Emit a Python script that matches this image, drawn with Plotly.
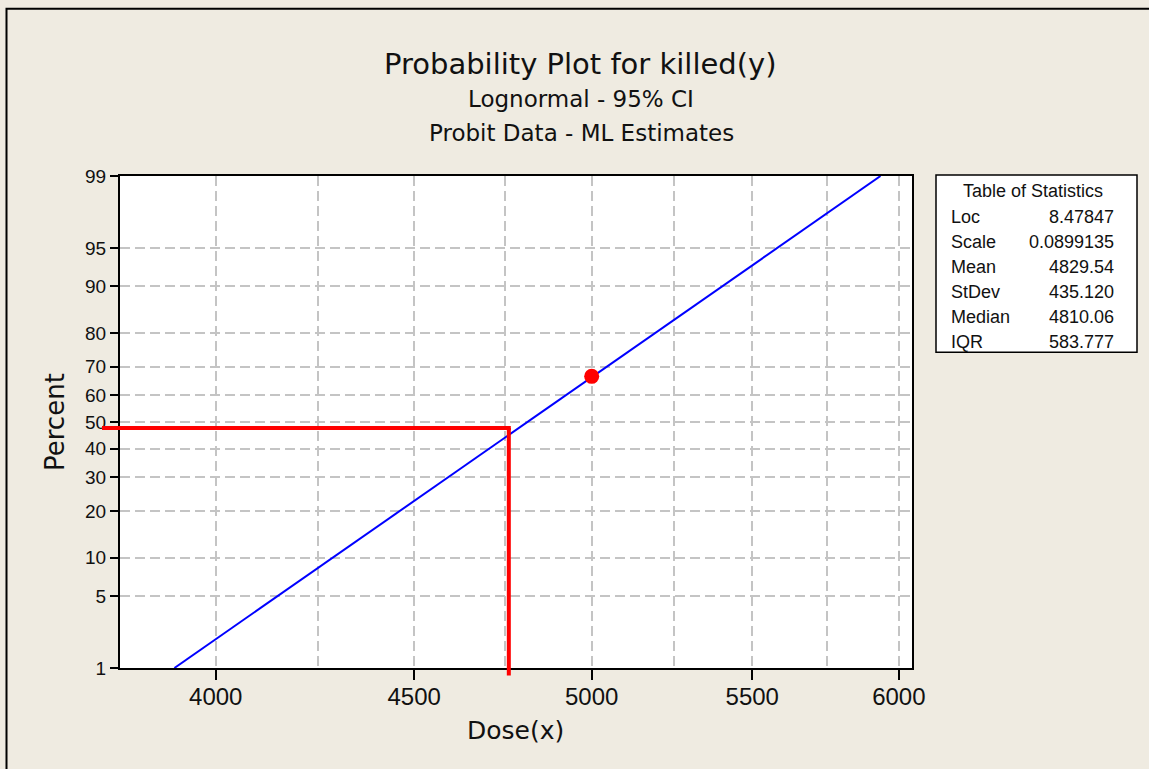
import math
from statistics import NormalDist
import plotly.graph_objects as go

# ---------------- data ----------------
fit_dose = [3903, 5935]          # fitted lognormal line end points (Dose)
fit_pct = [1, 99]                # percent at those end points
obs_dose = [5000]                # observed point
obs_pct = [66.7]
ref_dose = 4760                  # red reference lines
ref_pct = 47.7
y_tick_pct = [1, 5, 10, 20, 30, 40, 50, 60, 70, 80, 90, 95, 99]
x_tick_vals = [4000, 4500, 5000, 5500, 6000]
x_minor_vals = [4250, 4750, 5250, 5750]
x_range_vals = [3779, 6047]
stat_labels = ["Loc", "Scale", "Mean", "StDev", "Median", "IQR"]
stat_values = ["8.47847", "0.0899135", "4829.54", "435.120", "4810.06", "583.777"]

# ---------------- helpers ----------------
nd = NormalDist()


def probit(p):
    return nd.inv_cdf(p / 100.0)


W, H = 1149, 769
ML, MR, MT, MB = 120, 237, 176, 100.5
PW = W - ML - MR
PH = H - MT - MB


def px(x):
    return (x - ML) / PW


def py(y):
    return (H - MB - y) / PH


BG = "#efebe1"
GRID = "#c4c4c4"
TXT = "#111111"
F_TITLE = "DejaVu Sans"
F_NUM = "Liberation Sans"

xr = [math.log10(v) for v in x_range_vals]
yr = [probit(1), probit(99)]

fig = go.Figure()

fig.add_trace(go.Scatter(
    x=fit_dose, y=[probit(p) for p in fit_pct], mode="lines",
    line=dict(color="#0000ff", width=2), showlegend=False, hoverinfo="skip"))

fig.add_trace(go.Scatter(
    x=obs_dose, y=[probit(p) for p in obs_pct], mode="markers",
    marker=dict(color="#ff0000", size=15, symbol="circle"),
    cliponaxis=False, showlegend=False))

ref_z = probit(ref_pct)
ref_xp = (math.log10(ref_dose) - xr[0]) / (xr[1] - xr[0])
ref_yp = (ref_z - yr[0]) / (yr[1] - yr[0])

shapes = [
    # outer frame
    dict(type="rect", xref="paper", yref="paper",
         x0=px(6.5), x1=px(W + 20), y0=py(8.5), y1=py(H + 20),
         line=dict(color="#000000", width=2), fillcolor="rgba(0,0,0,0)", layer="below"),
    # red reference lines
    dict(type="line", xref="paper", yref="y",
         x0=px(102), x1=ref_xp + 2 / PW, y0=ref_z, y1=ref_z,
         line=dict(color="#ff0000", width=4)),
    dict(type="line", xref="x", yref="paper",
         x0=ref_dose, x1=ref_dose, y0=ref_yp, y1=py(676),
         line=dict(color="#ff0000", width=4)),
    # statistics table box
    dict(type="rect", xref="paper", yref="paper",
         x0=px(936), x1=px(1137), y0=py(175), y1=py(352.5),
         line=dict(color="#000000", width=1.5), fillcolor="#ffffff"),
]

annotations = [
    dict(text="Probability Plot for killed(y)", x=px(580), y=py(64),
         font=dict(family=F_TITLE, size=29, color=TXT)),
    dict(text="Lognormal - 95% CI", x=px(581), y=py(99),
         font=dict(family=F_TITLE, size=23, color=TXT)),
    dict(text="Probit Data - ML Estimates", x=px(581), y=py(133),
         font=dict(family=F_TITLE, size=23, color=TXT)),
    dict(text="Dose(x)", x=px(515), y=py(731),
         font=dict(family=F_TITLE, size=25, color=TXT)),
    dict(text="Percent", x=px(55), y=0.5, textangle=-90,
         font=dict(family=F_TITLE, size=26, color=TXT)),
    dict(text="Table of Statistics", x=px(1033), y=py(191),
         font=dict(family=F_NUM, size=18, color=TXT)),
]
for i, (lab, val) in enumerate(zip(stat_labels, stat_values)):
    yy = py(216.7 + 25 * i)
    annotations.append(dict(text=lab, x=px(949), y=yy, xanchor="left",
                            font=dict(family=F_NUM, size=18, color=TXT)))
    annotations.append(dict(text=val, x=px(1116), y=yy, xanchor="right",
                            font=dict(family=F_NUM, size=18, color=TXT)))
for a in annotations:
    a.update(xref="paper", yref="paper", showarrow=False)
    a.setdefault("xanchor", "center")
    a.setdefault("yanchor", "middle")

fig.update_layout(
    width=W, height=H,
    margin=dict(l=ML, r=MR, t=MT, b=MB, pad=0),
    paper_bgcolor=BG, plot_bgcolor="#ffffff",
    showlegend=False,
    shapes=shapes, annotations=annotations,
    xaxis=dict(
        type="log", range=xr, tickmode="array", tickvals=x_tick_vals,
        ticktext=[str(v) for v in x_tick_vals],
        showgrid=True, gridcolor=GRID, griddash="10px,5px", gridwidth=1.5,
        minor=dict(tickmode="array", tickvals=x_minor_vals, showgrid=True,
                   gridcolor=GRID, griddash="10px,5px", gridwidth=1.5, ticks=""),
        showline=True, linecolor="#000000", linewidth=2, mirror=True,
        ticks="outside", ticklen=10, tickwidth=1.5, tickcolor="#000000",
        ticklabelstandoff=-4,
        tickfont=dict(family=F_NUM, size=24, color=TXT),
        zeroline=False, fixedrange=True),
    yaxis=dict(
        range=yr, tickmode="array", tickvals=[probit(p) for p in y_tick_pct],
        ticktext=[str(p) for p in y_tick_pct],
        showgrid=True, gridcolor=GRID, griddash="10px,5px", gridwidth=1.5,
        showline=True, linecolor="#000000", linewidth=2, mirror=True,
        ticks="outside", ticklen=8, tickwidth=1.5, tickcolor="#000000",
        tickfont=dict(family=F_NUM, size=19, color=TXT),
        zeroline=False, fixedrange=True),
)

fig.write_html("out.html", config={"displayModeBar": False})
